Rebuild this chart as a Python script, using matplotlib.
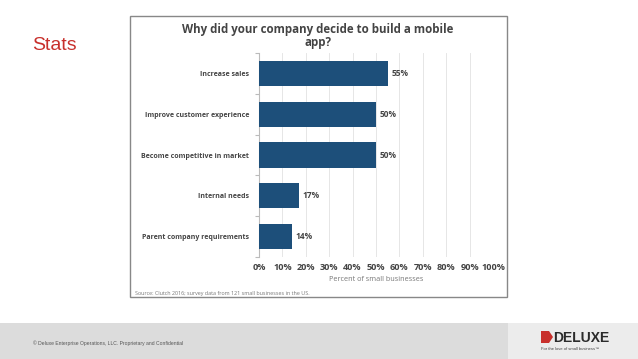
import matplotlib
matplotlib.use("Agg")
import matplotlib.pyplot as plt
from matplotlib.patches import Rectangle, Polygon
import numpy as np

categories = ["Increase sales", "Improve customer experience", "Become competitive in market",
              "Internal needs", "Parent company requirements"]
values = [55, 50, 50, 17, 14]
xticks = [0, 10, 20, 30, 40, 50, 60, 70, 80, 90, 100]
xticklabels = [f"{v}%" for v in xticks]

W, H = 638, 359
fig = plt.figure(figsize=(W / 100, H / 100), dpi=100)
fig.patch.set_facecolor("white")
FONT = "Open Sans"

def fx(px):
    return px / W

def fy(py):
    return 1 - py / H

# Footer band
fig.patches.append(Rectangle((0, 0), fx(508), (H - 323) / H,
                             transform=fig.transFigure, facecolor="#dcdcdc", edgecolor="none", zorder=0))
fig.patches.append(Rectangle((fx(508), 0), 1 - fx(508), (H - 323) / H,
                             transform=fig.transFigure, facecolor="#ececec", edgecolor="none", zorder=0))
fig.text(fx(33), fy(343), "© Deluxe Enterprise Operations, LLC. Proprietary and Confidential",
         fontsize=3.6, color="#555555", family="Liberation Sans", va="center", ha="left")
# Logo
fig.patches.append(Polygon([(fx(541), fy(331)), (fx(549), fy(331)), (fx(553), fy(337)),
                            (fx(549), fy(343)), (fx(541), fy(343))],
                           closed=True, transform=fig.transFigure, facecolor="#c8302c", edgecolor="none"))
fig.text(fx(553), fy(337.5), "DELUXE", fontsize=10, fontweight="bold", color="#2b2b2b",
         family="Liberation Sans", va="center", ha="left")
fig.text(fx(541), fy(349), "For the love of small business\u2122", fontsize=3, color="#444444",
         family="Liberation Sans", va="center", ha="left")

# Stats
fig.text(fx(32), fy(45), "Stats", fontsize=14, color="#c8302c", family="Liberation Sans",
         va="center", ha="left")

# Chart box
fig.patches.append(Rectangle((fx(130), fy(297)), fx(507) - fx(130), fy(16) - fy(297),
                             transform=fig.transFigure, facecolor="white", edgecolor="#888888",
                             linewidth=1.0, zorder=1))

ax = fig.add_axes([fx(259), fy(257), fx(493) - fx(259), fy(53) - fy(257)])
ax.set_zorder(2)
ax.set_facecolor("none")
y = np.arange(len(categories))
ax.barh(y, values, height=0.62, color="#1d4f7a", zorder=3)
ax.set_ylim(len(categories) - 0.5, -0.5)
ax.set_xlim(0, 100)
ax.set_xticks(xticks)
ax.set_xticklabels(xticklabels, fontsize=6.6, fontweight="bold", color="#444444", family=FONT)
ax.set_yticks(y)
ax.set_yticklabels(categories, fontsize=5, fontweight="bold", color="#444444", family=FONT)
ax.tick_params(axis="y", length=0, pad=7)
ax.set_yticks(np.arange(-0.5, len(categories), 1.0), minor=True)
ax.tick_params(axis="y", which="minor", length=3, color="#bbbbbb", width=0.8)
ax.tick_params(axis="x", length=0, pad=4)
ax.grid(axis="x", color="#e6e6e6", linewidth=0.7, zorder=0)
for s in ["top", "right", "bottom"]:
    ax.spines[s].set_visible(False)
ax.spines["left"].set_color("#bbbbbb")
ax.spines["left"].set_linewidth(0.8)
for yi, v in zip(y, values):
    ax.text(v + 1.5, yi, f"{v}%", va="center", ha="left", fontsize=6, fontweight="bold",
            color="#444444", family=FONT)
ax.set_xlabel("Percent of small businesses", fontsize=5.2, color="#777777", family=FONT, labelpad=3)

fig.text(fx(318), fy(36), "Why did your company decide to build a mobile\napp?", fontsize=8.3,
         fontweight="bold", color="#444444", family=FONT, ha="center", va="center",
         linespacing=1.0, zorder=3)
fig.text(fx(135), fy(293), "Source: Clutch 2016; survey data from 121 small businesses in the US.",
         fontsize=3.9, color="#777777", family=FONT, ha="left", va="center", zorder=3)

fig.savefig("out.png", dpi=100)
